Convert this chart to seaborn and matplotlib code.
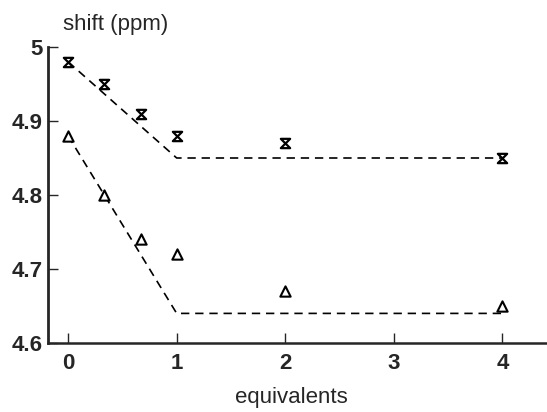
import numpy as np
import pandas as pd
import matplotlib
matplotlib.use("Agg")
import matplotlib.pyplot as plt
import seaborn as sns
from matplotlib.path import Path

# data
equiv = [0, 0.33, 0.67, 1, 2, 4]
shift_a = [4.98, 4.95, 4.91, 4.88, 4.87, 4.85]   # hourglass series
shift_b = [4.88, 4.80, 4.74, 4.72, 4.67, 4.65]   # triangle series
fit_x = [0, 1, 4]
fit_a = [4.98, 4.85, 4.85]
fit_b = [4.88, 4.64, 4.64]
xticks = [0, 1, 2, 3, 4]
yticks = [4.6, 4.7, 4.8, 4.9, 5.0]
yticklabels = ["4.6", "4.7", "4.8", "4.9", "5"]

sns.set_style("ticks")
plt.rcParams['font.family'] = ['Liberation Sans', 'DejaVu Sans']

fig = plt.figure(figsize=(5.47, 4.12), dpi=100)
ax = fig.add_axes([48/547, 69/412, 1 - 48/547, (343-47)/412])

df = pd.DataFrame({"x": equiv, "a": shift_a, "b": shift_b})
fa = pd.DataFrame({"x": fit_x, "a": fit_a, "b": fit_b})

sns.lineplot(data=fa, x="x", y="a", ax=ax, color="black", lw=1.2,
             linestyle=(0, (5, 3.5)), sort=False)
sns.lineplot(data=fa, x="x", y="b", ax=ax, color="black", lw=1.2,
             linestyle=(0, (5, 3.5)), sort=False)

hourglass = Path([(-1, 1), (1, 1), (-1, -1), (1, -1), (-1, 1)],
                 [Path.MOVETO, Path.LINETO, Path.LINETO, Path.LINETO, Path.CLOSEPOLY])
sns.scatterplot(data=df, x="x", y="a", ax=ax, marker=hourglass, s=45,
                facecolor="white", edgecolor="black", linewidth=1.6, zorder=3)
sns.scatterplot(data=df, x="x", y="b", ax=ax, marker="^", s=55,
                facecolor="white", edgecolor="black", linewidth=1.5, zorder=3)

ax.set_xlim(-0.185, 4.41)
ax.set_ylim(4.6, 5.0)
ax.set_xticks(xticks)
ax.set_xticklabels([str(t) for t in xticks], fontsize=16, fontweight="bold")
ax.set_yticks(yticks)
ax.set_yticklabels(yticklabels, fontsize=16, fontweight="bold")
ax.tick_params(direction="in", length=7, width=1, pad=4)
ax.tick_params(axis="x", pad=7)
ax.set_xlabel("")
ax.set_ylabel("")
sns.despine(ax=ax)
ax.spines["left"].set_linewidth(2)
ax.spines["bottom"].set_linewidth(1.8)

fig.text(63/547, 1 - 30/412, "shift (ppm)", fontsize=16, va="baseline", ha="left")
fig.text(291/547, 1 - 403/412, "equivalents", fontsize=16, va="baseline", ha="center")

fig.savefig("out.png", dpi=100)
